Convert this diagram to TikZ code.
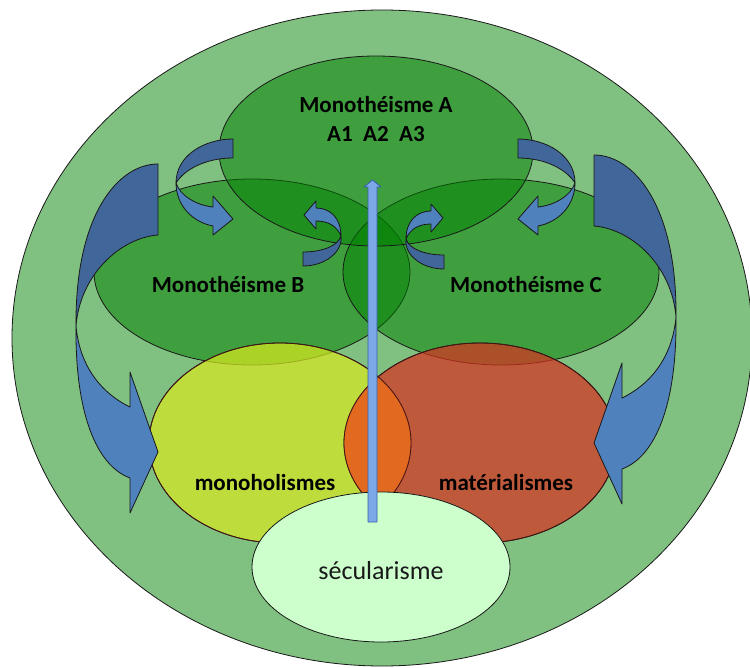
\documentclass[tikz,border=0pt]{standalone}
\usepackage{fontspec}
\setmainfont{Carlito}

\definecolor{outergreen}{RGB}{128,192,128}
\definecolor{monogreen}{RGB}{0,128,0}
\definecolor{holyellow}{RGB}{217,232,30}
\definecolor{matred}{RGB}{217,47,31}
\definecolor{lensorange}{RGB}{226,105,32}
\definecolor{secgreen}{RGB}{204,255,204}
\definecolor{arrowdark}{RGB}{65,103,154}
\definecolor{arrowlight}{RGB}{79,129,189}
\definecolor{barblue}{RGB}{125,168,232}
\definecolor{barline}{RGB}{55,95,170}
\definecolor{inkline}{RGB}{25,25,25}

\tikzset{
  outline/.style={draw=inkline, line width=0.8pt},
  mono/.style={outline, fill=monogreen, fill opacity=0.5},
  worldview/.style={outline, fill opacity=0.7},
  backface/.style={fill=arrowdark, draw=inkline, line width=0.8pt},
  frontface/.style={fill=arrowlight, draw=inkline, line width=0.8pt},
  vbar/.style={fill=barblue, draw=barline, line width=0.8pt},
  lbl/.style={font=\fontsize{23}{28}\selectfont\bfseries, text=black, anchor=base, inner sep=0pt},
  seclbl/.style={font=\fontsize{26}{30}\selectfont, text=black!90, anchor=base, inner sep=0pt}
}

% large twisted arrow on the left (tail at top, head pointing right)
\newcommand\bigcurvearrow{%
  \draw[backface] (158,164) .. controls (118,164) and (75,215) .. (76,326)
     .. controls (80,275) and (120,238) .. (158,235) -- cycle;
  \draw[frontface] (76,326) .. controls (75,410) and (95,465) .. (130,478)
     -- (130,513) -- (158,452) -- (130,372) -- (130,407)
     .. controls (105,395) and (80,370) .. (76,326) -- cycle;}

% small twisted arrow from A down to B
\newcommand\smallcurvearrow{%
  \draw[backface] (233,139) .. controls (205,139) and (176,155) .. (176,183)
     .. controls (184,170) and (205,158) .. (233,158) -- cycle;
  \draw[frontface] (176,183) .. controls (176,205) and (192,222) .. (213,226)
     -- (213,235) -- (233,219) -- (213,196) -- (213,207)
     .. controls (195,205) and (180,195) .. (176,183) -- cycle;}

% small twisted arrow from B up to A
\newcommand\innercurvearrow{%
  \draw[backface] (303,252) .. controls (322,252) and (338,246) .. (341,236)
     .. controls (343,252) and (325,266) .. (303,266) -- cycle;
  \draw[frontface] (341,236) .. controls (341,218) and (330,208) .. (316,208)
     -- (316,201) -- (304,215) -- (316,229) -- (316,221)
     .. controls (328,221) and (337,226) .. (341,236) -- cycle;}

\begin{document}
\begin{tikzpicture}[x=1pt,y=-1pt,line join=round]
\useasboundingbox (0,0) rectangle (750,668);
\fill[white] (0,0) rectangle (750,668);

% surrounding field
\draw[outline, fill=outergreen] (382,338) ellipse [x radius=370pt, y radius=328pt];

% the three monotheisms
\draw[mono] (252,272) ellipse [x radius=158pt, y radius=93pt];
\draw[mono] (501,272) ellipse [x radius=158pt, y radius=93pt];
\draw[mono] (376,151) ellipse [x radius=157pt, y radius=95pt];

% monoholisms and materialisms
\draw[worldview, fill=holyellow] (280,443) ellipse [x radius=131pt, y radius=100pt];
\draw[worldview, fill=matred] (480,443) ellipse [x radius=136pt, y radius=100pt];
\begin{scope}
  \clip (280,443) ellipse [x radius=131pt, y radius=100pt];
  \fill[lensorange] (480,443) ellipse [x radius=136pt, y radius=100pt];
\end{scope}
\draw[outline, draw=inkline!80!red] (280,443) ellipse [x radius=131pt, y radius=100pt];
\draw[outline, draw=inkline!80!red] (480,443) ellipse [x radius=136pt, y radius=100pt];

% secularism
\draw[outline, fill=secgreen] (381,567) ellipse [x radius=129pt, y radius=75pt];

% twisted arrows
\bigcurvearrow
\begin{scope}[shift={(752,-9)}, xscale=-1]
  \bigcurvearrow
\end{scope}
\smallcurvearrow
\begin{scope}[shift={(751,0)}, xscale=-1]
  \smallcurvearrow
\end{scope}
\innercurvearrow
\begin{scope}[shift={(747,3)}, xscale=-1]
  \innercurvearrow
\end{scope}

% vertical arrow rising from secularism
\draw[vbar] (368,522) -- (368,187) -- (364,187) -- (372.5,180) -- (381,187)
  -- (377,187) -- (377,522) -- cycle;

% labels
\node[lbl] (monoA) at (376,113) {Monothéisme A};
\node[lbl] (monoAsub) at (376,142) {A1~~A2~~A3};
\node[lbl] (monoB) at (228,293) {Monothéisme B};
\node[lbl] (monoC) at (526,293) {Monothéisme C};
\node[lbl] (holism) at (265,490) {monoholismes};
\node[lbl] (materialism) at (506,490) {matérialismes};
\node[seclbl] (secular) at (381,579) {sécularisme};
\end{tikzpicture}
\end{document}
